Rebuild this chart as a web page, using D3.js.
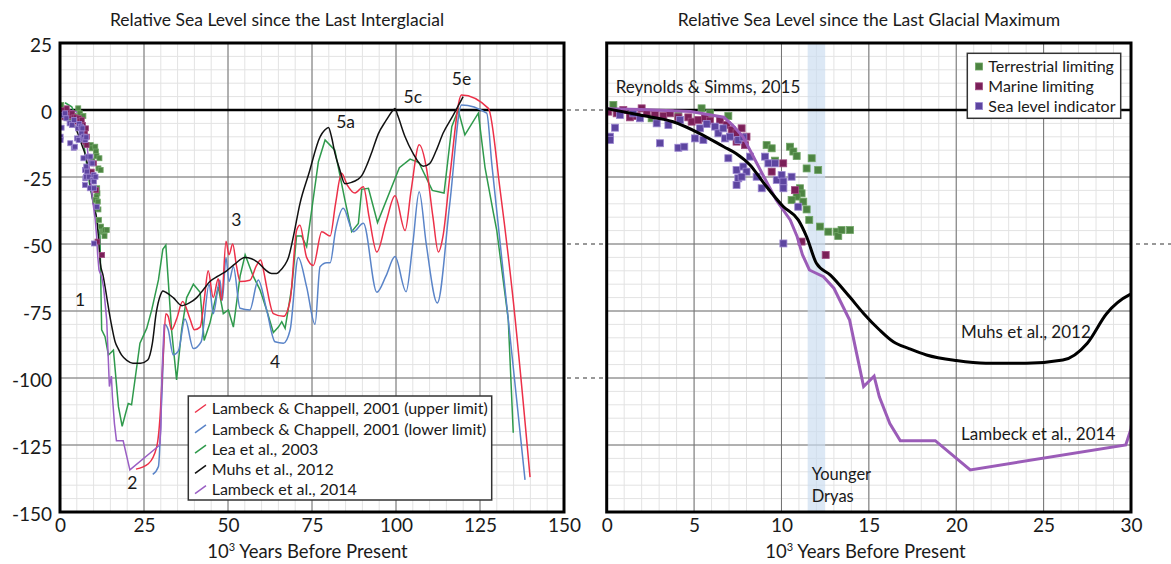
<!DOCTYPE html>
<html><head><meta charset="utf-8">
<script src="https://cdn.jsdelivr.net/npm/d3@7"></script>
<style>
body{margin:0;background:#fff}
svg{display:block}
text{font-family:Lato,"Open Sans",sans-serif;fill:#1a1a1a}
</style>
</head><body><svg id="c" width="1171" height="564"></svg>
<script>
// ---------------- DATA ----------------
const yTicks = [25, 0, -25, -50, -75, -100, -125, -150];
const leftXTicks = [0, 25, 50, 75, 100, 125, 150];
const rightXTicks = [0, 5, 10, 15, 20, 25, 30];

const lambeckChappellUpper = [[22.6,-134],[26.3,-132],[28.8,-125.6],[29.8,-114],[30.7,-92],[31.5,-76],[32.2,-77],[33.2,-82],[34.7,-78],[36.5,-71.5],[38.7,-78],[40,-82],[41.7,-81],[43,-70],[44.1,-60],[45.6,-70],[47.1,-63],[48.1,-71],[49.4,-49],[50.3,-54],[51.4,-50],[52.5,-58],[53.6,-64],[56.5,-63.5],[58.5,-58],[59.7,-56],[60.6,-60],[61.5,-66],[63.5,-76],[66.5,-77],[68.5,-71],[70.4,-45],[71.4,-43],[73.4,-55],[75.4,-58],[77.9,-45.4],[80.4,-47],[82,-35],[83.8,-23.6],[85.5,-28],[87.8,-31],[90.3,-28.6],[92,-40],[94.3,-53],[97,-42],[99.7,-32],[102.7,-45],[104.5,-30],[106.9,-13],[109.1,-22],[111,-40],[112.6,-53],[114,-47],[116,-25],[119.5,5.6],[127.5,0.6],[131,-30],[134.8,-70],[139.9,-137]];

const lambeckChappellLower = [[27.6,-136],[29.3,-133],[30.3,-107],[31.3,-80],[32.2,-82],[33.7,-91.4],[35.2,-90],[37.2,-78],[39.7,-89],[42,-86.5],[44.4,-65],[45.6,-76],[47.6,-63.4],[48.3,-71],[49.4,-55],[50.3,-64],[51.6,-58.5],[53.6,-74],[56.5,-74.6],[59,-63.4],[61.5,-74.6],[64,-86.5],[66.5,-87],[68.5,-82],[70.9,-55],[73.4,-66],[75.9,-80],[77.4,-58.5],[79.4,-57],[80.4,-57],[82,-45],[84.3,-36.7],[87.3,-45.4],[90.3,-42.3],[94.3,-68],[97,-62],[99.7,-54.7],[103,-67.8],[105,-50],[106.9,-30.5],[109,-50],[112.3,-72],[116,-35],[119.5,1.9],[127,-1.2],[128.5,-20],[133.4,-78],[138.4,-138]];

const lea2003 = [[1.5,2.7],[3.5,1.2],[5,-3],[7,-12],[8.9,-28.6],[10.5,-38],[11.9,-47],[12.4,-82],[13.4,-84.6],[14.4,-91.4],[15.9,-89.6],[17.4,-110.7],[18.5,-118],[20.3,-109.5],[21.3,-110],[23.8,-87],[25.8,-81.5],[27.3,-74.6],[29.3,-63.4],[30.6,-52],[31.5,-50.4],[32.2,-63.4],[33.2,-82],[34.7,-100.7],[36.2,-82],[37.7,-70],[39.7,-65],[41.7,-68],[42.9,-86],[44.6,-79.6],[47.1,-66],[48.6,-76],[50.1,-74.6],[51.6,-81],[53.6,-62],[55.1,-54],[57.5,-62],[59.5,-67],[61.5,-74.6],[63.5,-83],[65,-81],[66,-79],[67,-81.5],[69,-66],[70.4,-47],[71.9,-47],[73.4,-51],[76.9,-19.3],[78.9,-11.2],[81.8,-15],[84.8,-33.6],[86.8,-45.4],[88.8,-42.3],[89.8,-29.6],[91.8,-29.2],[94.5,-42],[101,-21.5],[104.2,-18.3],[106.8,-19.6],[110.8,-30],[114.3,-31],[116.6,-6.2],[118.5,0],[120.5,-9.3],[124.5,-1.2],[126.5,-21.5],[129,-38.5],[130,-45],[133.4,-78],[134.9,-120.4]];

const muhs2012 = [[0,0.5],[1.9,-1.9],[3.8,-4.4],[5.3,-8.7],[6.7,-13.7],[7.4,-16.2],[8.2,-20.5],[9,-27.4],[10.1,-36],[10.96,-41],[11.44,-47.3],[12,-57.2],[12.8,-61.6],[13.9,-69.7],[14.7,-75.9],[15.6,-82],[16.4,-86.5],[17.3,-89],[18.3,-91.4],[20,-93.5],[21.7,-94.5],[24,-94.5],[26.1,-93.3],[27.5,-87],[28.6,-76],[29.9,-69],[30.6,-67.5],[31.5,-68],[33.7,-70],[36.3,-73],[38.5,-72],[40.7,-70],[42.7,-67],[44.6,-64],[47,-62],[49.6,-60],[52,-57.5],[55,-55],[57,-55.5],[59,-57],[61,-59.5],[63,-61],[64.5,-61],[65.5,-60],[66.8,-58],[68,-55],[69.5,-47],[71.4,-35],[74,-24],[77.4,-10],[78.8,-7.5],[79.9,-6.5],[80.8,-10],[81.8,-16],[83.2,-22],[84.8,-27.5],[86.8,-27],[88.5,-26],[89.8,-24.5],[91.5,-20],[93,-15],[94.7,-9],[97,-4],[99.2,0],[99.7,0.6],[100.5,-2],[102.7,-10],[105,-16],[108.1,-21],[110,-20],[112,-15],[114,-8.7],[117,-2],[120,5]];

const lambeck2014 = [[0,0.5],[2,0.2],[4.8,-0.6],[6.7,-2.7],[7.2,-5.6],[7.8,-10],[8.2,-15],[9,-25],[9.7,-33.6],[10.5,-41],[10.9,-47.3],[11.2,-54],[11.6,-59.7],[12.4,-62.2],[13,-66.5],[13.9,-78.4],[14.3,-90.8],[14.7,-103.2],[15.3,-99.3],[15.6,-107],[16.2,-117],[16.8,-123.4],[18.8,-123.4],[20.8,-134.3],[29.7,-125],[30,-119],[30.3,-100],[30.7,-88],[31,-80]];

const terrestrialLimiting = [[0.38,1.87],[2.57,-3.1],[4.1,-2.24],[5.43,0.62],[5.91,-1.24],[6.96,-2.24],[9.15,-13.1],[9.44,-14.3],[9.63,-18.9],[10.49,-13.7],[10.68,-15.5],[10.87,-17.2],[11.73,-18],[11.44,-21.8],[12.1,-22.4],[11.06,-29.2],[11.15,-31.1],[10.87,-32.3],[10.58,-33.6],[11.25,-34.2],[11.44,-37.1],[11.59,-41],[12.2,-43.5],[12.68,-45.4],[13.16,-45.4],[13.25,-47],[13.44,-44.8],[13.92,-44.8]];

const marineLimiting = [[0.09,-0.62],[0.57,-1.24],[0.95,0],[1.33,-2.74],[1.71,-2.24],[2,0.62],[2.29,-1.24],[2.76,-1.87],[3.24,-2.24],[3.62,-1.24],[4.1,-2.74],[4.67,-2.74],[4.86,-4.35],[5.24,-3.73],[5.62,-3.1],[5.91,-3.98],[6.48,-3.73],[6.86,-5.6],[7.15,-7.46],[7.43,-8.7],[7.72,-6.84],[8,-9.95],[7.43,-11.8],[7.91,-13.1],[9.44,-23],[10.1,-19.9],[10.77,-29.9],[11.15,-49.1],[12.53,-54.1]];

const seaLevelIndicator = [[0.19,-9.95],[0.19,-11.2],[0.48,-6.6],[0.76,-1.87],[1.52,-1.24],[1.9,-3.1],[2.86,-4.98],[3.53,-5.6],[3.05,-12.4],[4.1,-14.1],[4.44,-13.7],[5.05,-10.6],[5.53,-11.2],[4.2,-3.73],[5.34,-6.84],[5.72,-5.22],[6.2,-6.2],[6.39,-8.7],[6.67,-6.84],[6.77,-10.6],[7.05,-9.95],[7.53,-11.2],[7.82,-10.2],[8.2,-17.4],[6.96,-18],[7.43,-22.4],[7.53,-25.5],[7.43,-28],[7.82,-21.1],[8,-23],[7.72,-24.9],[8.58,-24.9],[8.87,-29.2],[9.06,-17.4],[9.25,-19.9],[9.63,-19.9],[9.73,-26.1],[10.01,-24.3],[10.11,-26.7],[10.11,-29.2],[10.58,-24.9],[10.96,-36.1],[10.11,-49.8]];

const youngerDryas = [11.5, 12.5];

const leftLegend = ["Lambeck & Chappell, 2001 (upper limit)","Lambeck & Chappell, 2001 (lower limit)","Lea et al., 2003","Muhs et al., 2012","Lambeck et al., 2014"];
const rightLegend = ["Terrestrial limiting","Marine limiting","Sea level indicator"];
const stageLabels = [["1",6,-71],["2",21.5,-139],["3",52.5,-41],["4",64,-94],["5a",85,-4.5],["5c",105,4.8],["5e",119.5,11.5]];

// ---------------- DRAW ----------------
const svg = d3.select("#c");
const Y = d3.scaleLinear().domain([-150, 25]).range([512, 43]);
const xL = d3.scaleLinear().domain([0, 150]).range([60, 564]);
const xR = d3.scaleLinear().domain([0, 30]).range([606.7, 1131]);

const defs = svg.append("defs");
defs.append("clipPath").attr("id","clipL").append("rect").attr("x",60).attr("y",43).attr("width",504).attr("height",469);
defs.append("clipPath").attr("id","clipR").append("rect").attr("x",606.7).attr("y",43).attr("width",524.3).attr("height",469);

function grid(x, minorStep, xMax, ticks) {
  const g = svg.append("g");
  const [x0, x1] = x.range();
  d3.range(0, xMax + 0.001, minorStep).forEach(v => {
    g.append("line").attr("x1", x(v)).attr("x2", x(v)).attr("y1", 43).attr("y2", 512).attr("stroke", "#e3e3e3").attr("stroke-width", 1);
  });
  d3.range(-150, 25.001, 5).forEach(v => {
    g.append("line").attr("x1", x0).attr("x2", x1).attr("y1", Y(v)).attr("y2", Y(v)).attr("stroke", "#e3e3e3").attr("stroke-width", 1);
  });
  ticks.forEach(v => {
    g.append("line").attr("x1", x(v)).attr("x2", x(v)).attr("y1", 43).attr("y2", 512).attr("stroke", "#707070").attr("stroke-width", 1);
  });
  yTicks.forEach(v => {
    g.append("line").attr("x1", x0).attr("x2", x1).attr("y1", Y(v)).attr("y2", Y(v)).attr("stroke", "#707070").attr("stroke-width", 1);
  });
}
grid(xL, 5, 150, leftXTicks);
grid(xR, 1, 30, rightXTicks);

// Younger Dryas band
svg.append("rect").attr("x", xR(youngerDryas[0])).attr("y", 43)
  .attr("width", xR(youngerDryas[1]) - xR(youngerDryas[0])).attr("height", 469)
  .attr("fill", "#c9dcef").attr("opacity", 0.65);

// zero lines
[xL, xR].forEach(x => {
  svg.append("line").attr("x1", x.range()[0]).attr("x2", x.range()[1]).attr("y1", Y(0)).attr("y2", Y(0)).attr("stroke", "#000").attr("stroke-width", 2.4);
});

const sqColors = [["#4d8442","#6fa565"],["#7a1f58","#a04c82"],["#5d45a0","#9b86d0"]];
const sqData = [terrestrialLimiting, marineLimiting, seaLevelIndicator];

function drawSquares(g, x, s) {
  sqData.forEach((data, i) => {
    g.selectAll(null).data(data).enter().append("rect")
      .attr("x", d => x(d[0]) - s/2).attr("y", d => Y(d[1]) - s/2)
      .attr("width", s).attr("height", s)
      .attr("fill", sqColors[i][0]).attr("stroke", sqColors[i][1]).attr("stroke-width", 0.8);
  });
}

// left panel series
const gL = svg.append("g").attr("clip-path", "url(#clipL)");
const smooth = d3.line().x(d => xL(d[0])).y(d => Y(d[1])).curve(d3.curveMonotoneX);
const lin = d3.line().x(d => xL(d[0])).y(d => Y(d[1]));
gL.append("path").datum(lea2003).attr("d", lin).attr("fill","none").attr("stroke","#2f9a4c").attr("stroke-width",1.5);
gL.append("path").datum(lambeckChappellLower).attr("d", smooth).attr("fill","none").attr("stroke","#5a84c8").attr("stroke-width",1.5);
gL.append("path").datum(lambeckChappellUpper).attr("d", smooth).attr("fill","none").attr("stroke","#ec3048").attr("stroke-width",1.5);
gL.append("path").datum(muhs2012).attr("d", smooth).attr("fill","none").attr("stroke","#111").attr("stroke-width",1.5);
gL.append("path").datum(lambeck2014).attr("d", lin).attr("fill","none").attr("stroke","#9a5fc4").attr("stroke-width",1.5);
drawSquares(gL, xL, 5);

// right panel series
const gR = svg.append("g").attr("clip-path", "url(#clipR)");
drawSquares(gR, xR, 7);
const smoothR = d3.line().x(d => xR(d[0])).y(d => Y(d[1])).curve(d3.curveMonotoneX);
const linR = d3.line().x(d => xR(d[0])).y(d => Y(d[1]));
gR.append("path").datum(lambeck2014).attr("d", linR).attr("fill","none").attr("stroke","#9b5cb8").attr("stroke-width",3);
gR.append("path").datum(muhs2012).attr("d", smoothR).attr("fill","none").attr("stroke","#000").attr("stroke-width",3);

// frames
[xL, xR].forEach(x => {
  svg.append("rect").attr("x", x.range()[0]).attr("y", 43).attr("width", x.range()[1]-x.range()[0]).attr("height", 469)
    .attr("fill","none").attr("stroke","#000").attr("stroke-width",3);
});

// dashed connectors
[0, -50, -100].forEach(v => {
  svg.append("line").attr("x1", 567).attr("x2", 603).attr("y1", Y(v)).attr("y2", Y(v))
    .attr("stroke","#333").attr("stroke-width",1.1).attr("stroke-dasharray","4,4");
});
svg.append("line").attr("x1", 1136).attr("x2", 1171).attr("y1", Y(-50)).attr("y2", Y(-50))
  .attr("stroke","#333").attr("stroke-width",1.1).attr("stroke-dasharray","4,4");

// axes
const fmt = d => String(d);
const yAx = svg.append("g").attr("transform","translate(60,0)")
  .call(d3.axisLeft(Y).tickValues(yTicks).tickSize(0).tickPadding(8).tickFormat(fmt));
yAx.select(".domain").remove();
yAx.selectAll("text").attr("font-size", 19).attr("dy","0.45em").style("font-family","Lato,sans-serif").attr("fill","#1a1a1a");

[[xL, leftXTicks],[xR, rightXTicks]].forEach(([x, t]) => {
  const ax = svg.append("g").attr("transform","translate(0,512)")
    .call(d3.axisBottom(x).tickValues(t).tickSize(0).tickPadding(7).tickFormat(fmt));
  ax.select(".domain").remove();
  ax.selectAll("text").attr("font-size", 19).style("font-family","Lato,sans-serif").attr("fill","#1a1a1a");
});

// titles
svg.append("text").attr("x", 277).attr("y", 26).attr("text-anchor","middle").attr("font-size",17.5).text("Relative Sea Level since the Last Interglacial");
svg.append("text").attr("x", 869).attr("y", 26).attr("text-anchor","middle").attr("font-size",17.5).text("Relative Sea Level since the Last Glacial Maximum");

function xTitle(cx) {
  const t = svg.append("text").attr("x", cx).attr("y", 558).attr("text-anchor","middle").attr("font-size",18.5);
  t.append("tspan").text("10");
  t.append("tspan").attr("dy", -7).attr("font-size", 11).text("3");
  t.append("tspan").attr("dy", 7).text(" Years Before Present");
}
xTitle(307.5);
xTitle(865.5);

// stage labels
stageLabels.forEach(([s, x, y]) => {
  svg.append("text").attr("x", xL(x)).attr("y", Y(y)).attr("text-anchor","middle").attr("dy","0.35em").attr("font-size",17.5).text(s);
});

// right panel annotations
svg.append("text").attr("x", 615.7).attr("y", 93).attr("font-size",17).text("Reynolds & Simms, 2015");
svg.append("text").attr("x", 961).attr("y", 338).attr("font-size",17).text("Muhs et al., 2012");
svg.append("text").attr("x", 961).attr("y", 440).attr("font-size",17).text("Lambeck et al., 2014");
svg.append("text").attr("x", 811.7).attr("y", 480).attr("font-size",16.5).text("Younger");
svg.append("text").attr("x", 811.7).attr("y", 501.7).attr("font-size",16.5).text("Dryas");

// left legend
const lcol = ["#ec3048","#5a84c8","#2f9a4c","#111","#9a5fc4"];
svg.append("rect").attr("x",188.3).attr("y",396).attr("width",303.4).attr("height",104).attr("fill","#fff").attr("stroke","#333").attr("stroke-width",1.5);
leftLegend.forEach((s, i) => {
  const y = 408.5 + i * 20.3;
  svg.append("line").attr("x1",195).attr("x2",206).attr("y1",y+4).attr("y2",y-4).attr("stroke",lcol[i]).attr("stroke-width",1.5);
  svg.append("text").attr("x",211.7).attr("y",y).attr("dy","0.36em").attr("font-size",16).text(s);
});

// right legend
svg.append("rect").attr("x",967.3).attr("y",53.3).attr("width",153.4).attr("height",65).attr("fill","#fff").attr("stroke","#333").attr("stroke-width",1.5);
rightLegend.forEach((s, i) => {
  const y = 66.5 + i * 19.8;
  svg.append("rect").attr("x",975.5).attr("y",y-3.5).attr("width",7).attr("height",7).attr("fill",sqColors[i][0]).attr("stroke",sqColors[i][1]).attr("stroke-width",0.8);
  svg.append("text").attr("x",988.3).attr("y",y).attr("dy","0.36em").attr("font-size",16).text(s);
});
</script>
</body></html>
